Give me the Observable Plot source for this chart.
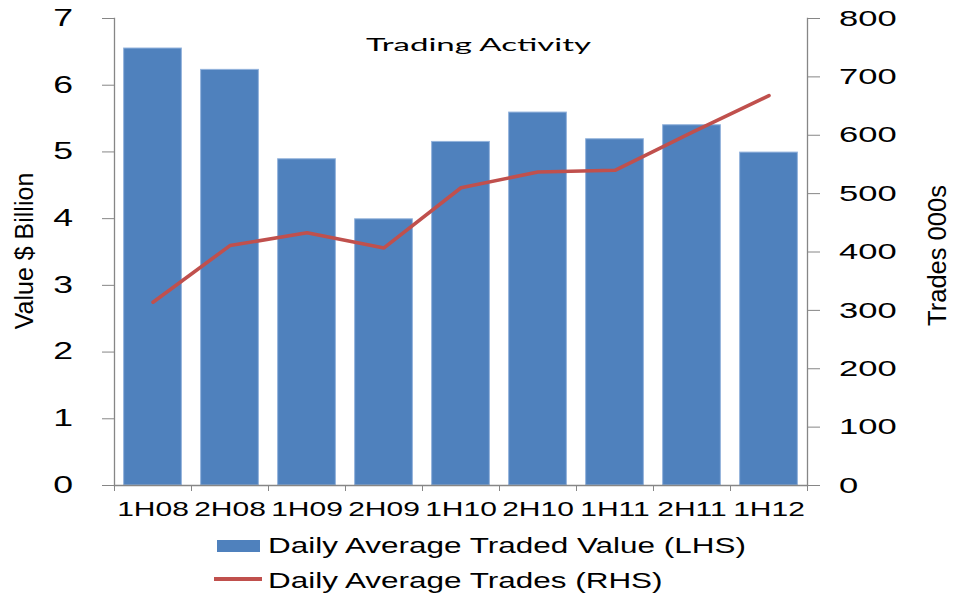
<!DOCTYPE html>
<html>
<head>
<meta charset="utf-8">
<script src="https://cdn.jsdelivr.net/npm/d3@7"></script>
<script src="https://cdn.jsdelivr.net/npm/@observablehq/plot@0.6"></script>
<style>
  html, body { margin: 0; padding: 0; background: #fff; }
  #wrap { position: relative; width: 953px; height: 593px; overflow: hidden; font-family: "Liberation Sans", Arial, sans-serif; }
  #chart svg { display: block; }
  .title { position: absolute; left: 2px; top: 37px; width: 953px; text-align: center; font-family: Lato, "Open Sans", sans-serif; font-size: 16.5px; line-height: 1; color: #000; transform: scaleX(2.0); transform-origin: 50% 50%; white-space: nowrap; }
  .lg-text { position: absolute; left: 268px; font-size: 22px; line-height: 1; color: #000; transform: scaleX(1.43); transform-origin: 0 50%; white-space: nowrap; }
  .sw-bar { position: absolute; left: 216.7px; top: 540.3px; width: 43.3px; height: 11.7px; background: #4F81BD; }
  .sw-line { position: absolute; left: 214px; top: 577.2px; width: 48px; height: 3.6px; background: #C0504D; }
</style>
</head>
<body>
<div id="wrap">
  <div id="chart"></div>
  <div class="title">Trading Activity</div>
  <div class="sw-bar"></div>
  <div class="lg-text" style="top:535.1px">Daily Average Traded Value (LHS)</div>
  <div class="sw-line"></div>
  <div class="lg-text" style="top:570.4px">Daily Average Trades (RHS)</div>
</div>
<script>
// ---- data ----
const periods = ["1H08", "2H08", "1H09", "2H09", "1H10", "2H10", "1H11", "2H11", "1H12"];
const tradedValue = [6.55, 6.23, 4.89, 3.99, 5.15, 5.59, 5.19, 5.40, 4.99];   // $ billion (LHS)
const dailyTrades = [314, 411, 433, 407, 510, 537, 540, 605, 668];             // trades 000s (RHS)
const leftTicks = [0, 1, 2, 3, 4, 5, 6, 7];
const rightTicks = [0, 100, 200, 300, 400, 500, 600, 700, 800];
const leftMax = 7, rightMax = 800;

const rows = periods.map((p, i) => ({period: p, value: tradedValue[i], trades: dailyTrades[i]}));
const toLeft = v => v * leftMax / rightMax;

const W = 953, H = 525, mL = 114, mR = 146, mT = 18, mB = 40;
const step = (W - mL - mR) / periods.length;
const axisGray = "#868686";

const plot = Plot.plot({
  width: W, height: H,
  marginLeft: mL, marginRight: mR, marginTop: mT, marginBottom: mB,
  style: {fontFamily: "'Liberation Sans', Arial, sans-serif", color: "#000", background: "#fff"},
  x: {domain: periods, paddingInner: 0.25, paddingOuter: 0.125, round: false, axis: null},
  y: {domain: [0, leftMax], axis: null},
  marks: [
    Plot.barY(rows, {x: "period", y: "value", fill: "#4F81BD", stroke: "#93B3DC", strokeWidth: 1}),
    Plot.lineY(rows, {x: "period", y: d => toLeft(d.trades), stroke: "#C0504D", strokeWidth: 3.6, strokeLinejoin: "round", strokeLinecap: "round"}),
    Plot.frame({anchor: "left", stroke: axisGray, strokeWidth: 1.3}),
    Plot.frame({anchor: "right", stroke: axisGray, strokeWidth: 1.3}),
    Plot.frame({anchor: "bottom", stroke: axisGray, strokeWidth: 1.3}),
    Plot.axisY(leftTicks, {anchor: "left", label: null, tickSize: 12, tickPadding: 29.5, fontSize: 23, stroke: axisGray, fill: "#000", tickFormat: d => d}),
    Plot.axisY(rightTicks.map(toLeft), {anchor: "right", label: null, tickSize: 12, tickPadding: 19.5, fontSize: 22.3, stroke: axisGray, fill: "#000", tickFormat: d => Math.round(d * rightMax / leftMax)}),
    Plot.axisX({anchor: "bottom", label: null, tickSize: 0, tickPadding: 16.7, fontSize: 20, fill: "#000"}),
    Plot.axisX({anchor: "bottom", label: null, tickSize: 6, text: null, stroke: axisGray, dx: -step / 2}),
    Plot.axisX([periods[periods.length - 1]], {anchor: "bottom", label: null, tickSize: 6, text: null, stroke: axisGray, dx: step / 2}),
    Plot.text(["Value $ Billion"], {frameAnchor: "left", textAnchor: "middle", lineAnchor: "middle", rotate: -90, fontSize: 25, dx: -89.5, dy: -1, fill: "#000"}),
    Plot.text(["Trades 000s"], {frameAnchor: "right", textAnchor: "middle", lineAnchor: "middle", rotate: -90, fontSize: 25.5, dx: 130.5, dy: 3.5, fill: "#000"})
  ]
});
document.getElementById("chart").appendChild(plot);

// horizontal stretch of tick labels (reference glyphs are wide)
function stretch(selection, k) {
  selection.each(function () {
    const t = d3.select(this);
    let tr = t.attr("transform") || "";
    const xa = t.attr("x");
    if (xa != null && !isNaN(+xa)) {
      tr += ` translate(${+xa},0)`;
      t.attr("x", null);
    }
    t.attr("transform", `${tr} scale(${k},1)`);
  });
}
const svg = d3.select(plot);
stretch(svg.selectAll('g[aria-label="y-axis tick label"] text'), 1.55);
stretch(svg.selectAll('g[aria-label="x-axis tick label"] text'), 1.5);
</script>
</body>
</html>
